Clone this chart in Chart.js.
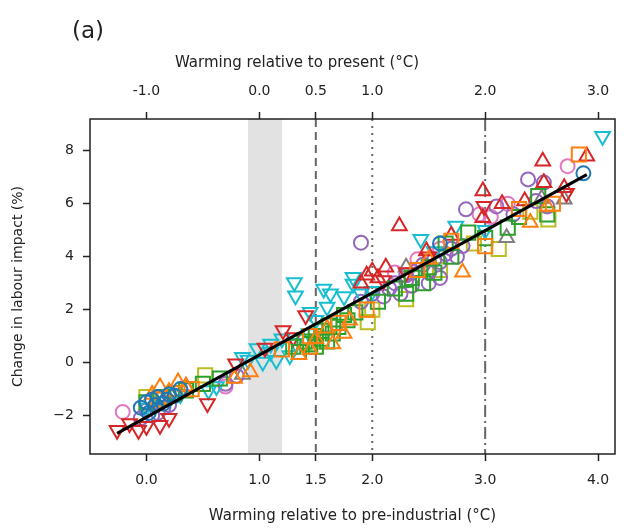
<!DOCTYPE html>
<html>
<head>
<meta charset="utf-8">
<script src="https://cdn.jsdelivr.net/npm/chart.js@4.4.0/dist/chart.umd.min.js"></script>
<style>
  html, body { margin: 0; padding: 0; background: #ffffff; }
  #wrap { width: 627px; height: 530px; position: relative; }
</style>
</head>
<body>
<div id="wrap"><canvas id="labourChart"></canvas></div>
<script>
// ticks
var bottomTicks = [0, 1, 1.5, 2, 3, 4];
var topTicks = [-1, 0, 0.5, 1, 2, 3];
var yTicks = [-2, 0, 2, 4, 6, 8];

// markers, [warming pre-industrial, change %]
var blueCircle = [[-0.05,-1.7],[0.0,-1.5],[0.05,-1.4],[0.1,-1.3],[0.15,-1.55],[0.2,-1.2],[0.02,-1.9],[0.3,-1.0],[3.87,7.15],[2.6,4.5],[0.08,-1.6],[0.18,-1.4],[0.25,-1.25]];
var orangeUp = [[0.12,-0.92],[0.28,-0.73],[0.05,-1.2],[0.2,-1.1],[0.35,-0.9],[0.78,-0.6],[0.92,-0.35],[1.35,0.3],[1.6,1.3],[1.8,1.6],[2.5,3.9],[2.8,3.41],[3.4,5.29],[3.55,5.9],[1.5,0.9],[1.45,0.5],[1.65,0.7],[1.75,1.1]];
var orangeSquare = [[0.1,-1.4],[0.4,-1.0],[1.2,0.5],[1.45,1.0],[1.7,1.5],[1.95,2.0],[2.4,3.5],[2.7,4.6],[3.3,5.8],[3.83,7.86],[3.6,6.0],[3.0,4.4]];
var greenSquare = [[0.0,-1.5],[0.15,-1.3],[0.25,-1.15],[0.35,-1.05],[0.5,-0.8],[0.65,-0.6],[1.3,0.6],[1.4,0.8],[1.5,1.0],[1.55,1.2],[1.62,1.4],[1.7,1.35],[1.78,1.6],[1.85,1.9],[1.5,0.6],[1.6,0.8],[2.05,2.3],[2.2,2.8],[2.35,3.2],[2.5,3.6],[2.55,3.4],[2.7,4.0],[2.85,4.91],[2.65,4.5],[3.0,4.7],[3.3,5.5],[3.47,6.29],[3.55,5.6],[3.2,5.1],[1.55,0.9],[1.65,1.1],[1.75,1.8],[1.45,0.7],[1.35,0.4],[2.3,2.6],[2.45,3.0]];
var redUp = [[2.24,5.16],[3.51,7.6],[3.9,7.79],[2.98,6.48],[2.98,5.47],[2.12,3.6],[2.48,4.22],[3.52,6.79],[1.95,3.3],[2.0,3.45],[2.05,3.2],[1.9,3.0],[3.35,6.1],[2.7,4.8],[0.35,-0.9],[3.7,6.6],[3.15,6.0]];
var redDown = [[-0.26,-2.55],[-0.07,-2.55],[0.12,-2.36],[0.54,-1.54],[0.79,-0.04],[1.41,1.78],[1.21,1.21],[2.99,5.91],[-0.15,-2.3],[0.0,-2.4],[1.05,0.55],[1.3,0.95],[2.3,3.4],[2.5,4.0],[3.72,6.4],[2.1,3.1],[0.2,-2.1]];
var cyanDown = [[4.04,8.55],[2.43,4.66],[2.74,5.16],[1.31,3.03],[1.32,2.53],[1.57,2.78],[1.83,3.22],[1.83,2.97],[1.63,2.6],[1.03,0.02],[1.15,0.09],[1.27,0.27],[0.98,0.53],[1.32,0.73],[1.44,1.1],[0.55,-1.05],[0.62,-0.9],[0.85,0.2],[1.1,0.4],[1.5,1.6],[1.6,2.1],[1.45,1.9],[1.75,2.5],[1.9,2.6],[2.0,2.7],[3.0,5.0],[2.55,4.2],[0.0,-1.7],[1.2,0.9],[1.1,0.7],[0.9,0.1],[0.3,-1.2]];
var purpleCircle = [[2.83,5.79],[1.9,4.53],[3.38,6.92],[3.52,6.8],[2.2,3.0],[2.3,3.3],[2.4,3.5],[2.45,3.7],[2.55,3.9],[2.6,3.8],[2.65,4.1],[2.7,4.3],[2.8,4.4],[2.35,2.9],[2.25,2.6],[2.1,2.5],[2.0,2.6],[1.9,2.3],[3.1,5.9],[3.25,5.6],[3.55,5.9],[3.45,6.1],[0.0,-1.8],[0.05,-2.0],[0.1,-1.9],[0.15,-1.7],[0.2,-1.6],[-0.05,-2.1],[0.7,-0.8],[0.8,-0.5],[2.5,3.0],[2.15,2.8],[2.3,3.1],[2.5,3.4],[2.6,3.2],[2.75,4.0]];
var pinkCircle = [[3.73,7.42],[-0.21,-1.86],[2.95,5.6],[3.05,5.5],[2.6,4.3],[2.4,3.9],[0.7,-0.9],[2.2,3.4],[3.2,6.0]];
var grayUp = [[3.19,4.72],[3.7,6.17],[0.85,-0.45],[3.5,6.2],[2.3,3.6]];
var oliveSquare = [[3.12,4.29],[3.56,5.41],[1.96,1.53],[0.52,-0.48],[0.0,-1.3],[2.6,3.5],[2.9,4.5],[1.5,0.8],[3.4,5.7],[2.0,2.0],[2.3,2.4]];

// fitted line end points
var fitLine = [[-0.26,-2.67],[3.9,7.1]];
// present-day band and reference levels
var presentBand = [0.9, 1.2];
var refLevels = [1.5, 2.0, 3.0];

function pts(arr) {
  return arr.map(function(p){ return {x: p[0], y: p[1]}; });
}

function markers(label, arr, color, style) {
  var ds = {
    type: 'scatter',
    label: label,
    data: pts(arr),
    borderColor: color,
    backgroundColor: 'rgba(0,0,0,0)',
    borderWidth: 2,
    pointStyle: style,
    pointRadius: 7,
    order: 2
  };
  if (style == 'down') {
    ds.pointStyle = 'triangle';
    ds.rotation = 180;
    ds.pointRadius = 8.5;
  } else if (style == 'triangle') {
    ds.pointRadius = 8.5;
  } else if (style == 'rect') {
    ds.pointRadius = 10;
  }
  return ds;
}

var frameAndRefs = {
  id: 'frameAndRefs',
  beforeDatasetsDraw: function(chart) {
    var ctx = chart.ctx, a = chart.chartArea, xs = chart.scales.x;
    ctx.save();
    ctx.fillStyle = '#e2e2e2';
    var b0 = xs.getPixelForValue(presentBand[0]), b1 = xs.getPixelForValue(presentBand[1]);
    ctx.fillRect(b0, a.top, b1 - b0, a.bottom - a.top);
    var dashes = [[8, 5], [2, 5], [12, 4, 2, 4]];
    ctx.strokeStyle = '#666666';
    ctx.lineWidth = 2;
    for (var i = 0; i < refLevels.length; i++) {
      var px = xs.getPixelForValue(refLevels[i]);
      ctx.setLineDash(dashes[i]);
      ctx.beginPath();
      ctx.moveTo(px, a.top);
      ctx.lineTo(px, a.bottom);
      ctx.stroke();
    }
    ctx.restore();
  },
  afterDraw: function(chart) {
    var ctx = chart.ctx, a = chart.chartArea;
    ctx.save();
    ctx.strokeStyle = '#222222';
    ctx.lineWidth = 1.5;
    ctx.strokeRect(a.left, a.top, a.right - a.left, a.bottom - a.top);
    ctx.fillStyle = '#222222';
    ctx.textBaseline = 'middle';
    ctx.textAlign = 'left';
    ctx.font = '23px "DejaVu Sans"';
    ctx.fillText('(a)', 72, 32);
    ctx.textAlign = 'center';
    ctx.font = '15px "DejaVu Sans"';
    ctx.fillText('Warming relative to present (°C)', 297, 63);
    ctx.restore();
  }
};

var tickFont = {family: 'DejaVu Sans', size: 14};
var gridOut = {drawOnChartArea: false, tickLength: 7, tickWidth: 1.5, tickColor: '#222222'};

var ctx = document.getElementById('labourChart');
var chart = new Chart(ctx, {
  type: 'scatter',
  data: {
    datasets: [
      {
        type: 'line',
        label: 'fit',
        data: pts(fitLine),
        borderColor: '#000000',
        borderWidth: 3,
        pointRadius: 0,
        fill: false,
        order: 0
      },
      markers('blue', blueCircle, '#1f77b4', 'circle'),
      markers('orange up', orangeUp, '#ff7f0e', 'triangle'),
      markers('orange sq', orangeSquare, '#ff7f0e', 'rect'),
      markers('green', greenSquare, '#2ca02c', 'rect'),
      markers('red up', redUp, '#d62728', 'triangle'),
      markers('red down', redDown, '#d62728', 'down'),
      markers('cyan', cyanDown, '#17becf', 'down'),
      markers('purple', purpleCircle, '#9467bd', 'circle'),
      markers('pink', pinkCircle, '#e377c2', 'circle'),
      markers('gray', grayUp, '#7f7f7f', 'triangle'),
      markers('olive', oliveSquare, '#bcbd22', 'rect')
    ]
  },
  options: {
    responsive: true,
    maintainAspectRatio: false,
    animation: false,
    layout: {padding: {top: 0, left: 0, right: 1, bottom: 0}},
    plugins: {legend: {display: false}, tooltip: {enabled: false}},
    scales: {
      x: {
        type: 'linear',
        position: 'bottom',
        min: -0.5,
        max: 4.15,
        border: {display: false},
        grid: gridOut,
        afterBuildTicks: function(s){ s.ticks = bottomTicks.map(function(v){ return {value: v}; }); },
        afterFit: function(s){ s.height = 76; },
        ticks: {font: tickFont, color: '#222222', padding: 11, maxRotation: 0,
          callback: function(v){ return v.toFixed(1); }},
        title: {display: true, text: 'Warming relative to pre-industrial (°C)',
          font: {family: 'DejaVu Sans', size: 15}, color: '#222222', padding: {top: 0, bottom: 5}}
      },
      x2: {
        type: 'linear',
        position: 'top',
        min: -1.5,
        max: 3.15,
        border: {display: false},
        grid: gridOut,
        afterBuildTicks: function(s){ s.ticks = topTicks.map(function(v){ return {value: v}; }); },
        afterFit: function(s){ s.height = 119; },
        ticks: {font: tickFont, color: '#222222', padding: 12, maxRotation: 0,
          callback: function(v){ return v.toFixed(1); }},
      },
      y: {
        type: 'linear',
        min: -3.45,
        max: 9.2,
        border: {display: false},
        grid: gridOut,
        afterBuildTicks: function(s){ s.ticks = yTicks.map(function(v){ return {value: v}; }); },
        afterFit: function(s){ s.width = 90; },
        ticks: {font: tickFont, color: '#222222', padding: 9,
          callback: function(v){ return v < 0 ? '\u2212' + Math.abs(v) : String(v); }},
        title: {display: true, text: 'Change in labour impact (%)',
          font: {family: 'DejaVu Sans', size: 14}, color: '#222222', padding: {top: 10, bottom: 0}}
      }
    }
  },
  plugins: [frameAndRefs]
});
</script>
</body>
</html>
